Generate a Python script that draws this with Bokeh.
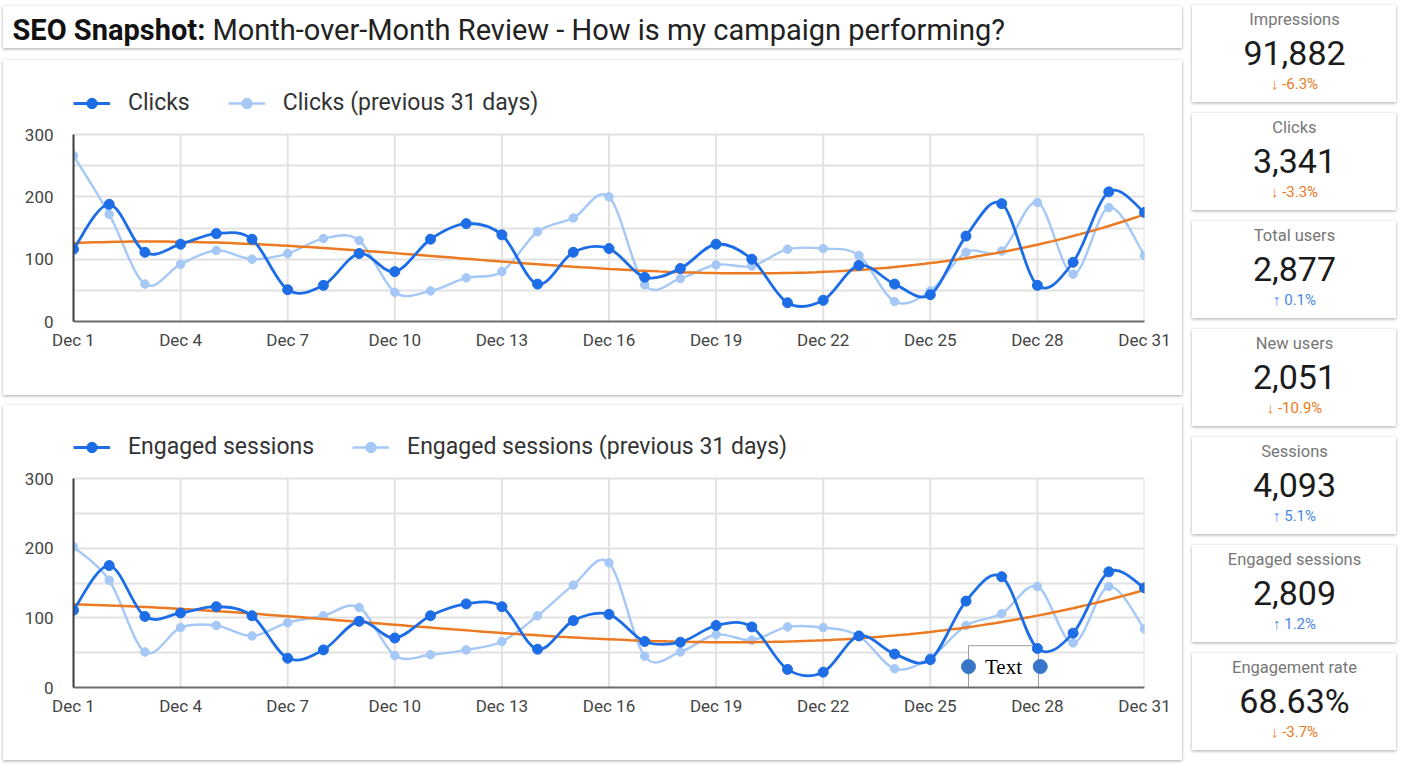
import numpy as np
from bokeh.plotting import figure
from bokeh.models import Range1d, FixedTicker, Legend, LegendItem, Spacer
from bokeh.layouts import column, row
from bokeh.embed import file_html
from bokeh.resources import INLINE
from bokeh.core.properties import value

# ---------------- data ----------------
days = list(range(1, 32))
clicks = [116, 188, 111, 124, 141, 132, 51, 58, 109, 80,
          132, 157, 139, 60, 111, 117, 71, 85, 124, 100,
          30, 34, 90, 60, 43, 137, 189, 58, 95, 208, 175]
clicks_prev = [266, 172, 60, 92, 114, 100, 109, 133, 130, 47,
               49, 70, 80, 144, 166, 200, 59, 69, 91, 89,
               116, 117, 106, 32, 49, 111, 113, 191, 76, 183, 106]
engaged = [111, 175, 102, 107, 116, 103, 42, 54, 95, 71,
           103, 120, 116, 55, 96, 105, 66, 65, 89, 87,
           26, 22, 74, 48, 40, 124, 159, 56, 78, 166, 143]
engaged_prev = [202, 154, 51, 86, 89, 74, 93, 103, 115, 46,
                47, 54, 66, 103, 147, 179, 45, 51, 76, 68,
                87, 86, 74, 27, 43, 89, 106, 145, 64, 145, 84]

x_tick_days = [1, 4, 7, 10, 13, 16, 19, 22, 25, 28, 31]
x_tick_labels = ["Dec 1", "Dec 4", "Dec 7", "Dec 10", "Dec 13", "Dec 16",
                 "Dec 19", "Dec 22", "Dec 25", "Dec 28", "Dec 31"]
y_ticks = [0, 100, 200, 300]
y_minor_ticks = [50, 150, 250]

kpi_names = ["Impressions", "Clicks", "Total users", "New users", "Sessions",
             "Engaged sessions", "Engagement rate"]
kpi_values = ["91,882", "3,341", "2,877", "2,051", "4,093", "2,809", "68.63%"]
kpi_deltas = [-6.3, -3.3, 0.1, -10.9, 5.1, 1.2, -3.7]

title_bold = "SEO Snapshot:"
title_rest = "Month-over-Month Review - How is my campaign performing?"

# annotation element ("Text" box) seen on the lower chart
annot_box = dict(left=26.07, right=28.03, bottom=0, top=60)
annot_dots_x = [26.07, 28.08]
annot_dots_y = [30, 30]
annot_label = "Text"

DARK = "#1c6de6"
LIGHT = "#a5c8f6"
ORANGE = "#ec7a22"
GRID = "#e2e2e2"
FONT = "Roboto"
SHADOW = {"box-shadow": "0px 1px 3px rgba(0,0,0,0.35)"}
Y_MAX = 300


def bezier_parts(xs, ys):
    xs = np.asarray(xs, float)
    ys = np.asarray(ys, float)
    xp = np.concatenate([[xs[0]], xs, [xs[-1]]])
    yp = np.concatenate([[ys[0]], ys, [ys[-1]]])
    x0, y0 = xs[:-1], ys[:-1]
    x1, y1 = xs[1:], ys[1:]
    cx0 = x0 + (xp[2:-1] - xp[:-3]) / 6.0
    cy0 = y0 + (yp[2:-1] - yp[:-3]) / 6.0
    cx1 = x1 - (xp[3:] - xp[1:-2]) / 6.0
    cy1 = y1 - (yp[3:] - yp[1:-2]) / 6.0
    return dict(x0=x0, y0=y0, x1=x1, y1=y1, cx0=cx0, cy0=cy0, cx1=cx1, cy1=cy1)


def make_chart(cur, prev, label, height, data_h, legend_gap, btop, bbottom, annotate=False):
    # frame is extended upward by `legend_gap` px so the legend sits inside it
    ytop = Y_MAX + legend_gap * Y_MAX / data_h
    p = figure(width=1179, height=height, output_backend="svg", toolbar_location=None,
               x_range=Range1d(1, 31), y_range=Range1d(0, ytop),
               min_border_left=70, min_border_right=38, min_border_top=btop,
               min_border_bottom=bbottom)
    p.outline_line_color = None
    p.background_fill_color = "white"
    p.border_fill_color = "white"
    p.styles = SHADOW

    p.xaxis.ticker = FixedTicker(ticks=x_tick_days)
    p.xaxis.major_label_overrides = {d: l for d, l in zip(x_tick_days, x_tick_labels)}
    p.yaxis.ticker = FixedTicker(ticks=y_ticks, minor_ticks=y_minor_ticks)
    p.yaxis.bounds = (0, Y_MAX)
    for ax in (p.xaxis, p.yaxis):
        ax.major_tick_line_color = None
        ax.minor_tick_line_color = None
        ax.major_label_text_font = FONT
        ax.major_label_text_font_size = "17px"
        ax.major_label_text_color = "#444444"
    p.xaxis.axis_line_color = "#6d6d6d"
    p.xaxis.axis_line_width = 2
    p.yaxis.axis_line_color = "#3c3c3c"
    p.yaxis.axis_line_width = 2
    p.xaxis.major_label_standoff = 2
    p.yaxis.major_label_standoff = 14
    p.xgrid.visible = False
    p.ygrid.grid_line_color = GRID
    p.ygrid.grid_line_width = 2
    p.ygrid.minor_grid_line_color = GRID
    p.ygrid.minor_grid_line_width = 2
    # vertical grid lines limited to the data area (0..300)
    p.segment(x0=x_tick_days, x1=x_tick_days, y0=[0] * len(x_tick_days),
              y1=[Y_MAX] * len(x_tick_days), line_color=GRID, line_width=2, level="underlay")

    if annotate:
        p.quad(fill_color="white", line_color="#9a9a9a", line_width=1, **annot_box)

    r_pl = p.bezier(line_color=LIGHT, line_width=2.4, **bezier_parts(days, prev))
    r_pd = p.scatter(days, prev, size=8.5, color=LIGHT)

    # trend (cubic polynomial fit of current series)
    coeffs = np.polyfit(days, cur, 3)
    tx = np.linspace(1, 31, 151)
    p.line(tx, np.polyval(coeffs, tx), line_color=ORANGE, line_width=2.5)

    r_cl = p.bezier(line_color=DARK, line_width=2.8, **bezier_parts(days, cur))
    r_cd = p.scatter(days, cur, size=10, color=DARK)

    if annotate:
        p.scatter(annot_dots_x, annot_dots_y, size=14, color="#3875c9")
        p.text(x=[(annot_box["left"] + annot_box["right"]) / 2], y=[annot_dots_y[0]],
               text=[annot_label], text_font=value("Liberation Serif"),
               text_font_size="21px", text_color="black",
               text_align="center", text_baseline="middle")

    leg_h = 26
    legend = Legend(items=[LegendItem(label=label, renderers=[r_cl, r_cd]),
                           LegendItem(label=label + " (previous 31 days)", renderers=[r_pl, r_pd])],
                    orientation="horizontal",
                    location=(0, data_h + 31 - leg_h // 2),
                    glyph_width=37, glyph_height=leg_h, label_height=leg_h,
                    label_standoff=18, spacing=38,
                    padding=0, margin=0, border_line_color=None,
                    background_fill_alpha=0, label_text_font=FONT,
                    label_text_font_size="23px", label_text_color="#333333",
                    inactive_fill_alpha=0)
    p.add_layout(legend, "center")
    return p


def blank_fig(w, h):
    f = figure(width=w, height=h, output_backend="svg", toolbar_location=None,
               x_range=Range1d(0, w), y_range=Range1d(h, 0),
               x_axis_location=None, y_axis_location=None,
               min_border=0, min_border_left=0, min_border_right=0,
               min_border_top=0, min_border_bottom=0)
    f.grid.visible = False
    f.outline_line_color = None
    f.background_fill_color = "white"
    f.border_fill_color = "white"
    f.styles = SHADOW
    return f


# ---------------- title ----------------
tp = blank_fig(1179, 42)
tp.text(x=[9], y=[23], text=[title_bold], text_font=value(FONT), text_font_style="bold",
        text_font_size="29px", text_color="#111111", text_baseline="middle")
tp.text(x=[209], y=[23], text=[title_rest], text_font=value(FONT),
        text_font_size="29px", text_color="#222222", text_baseline="middle")

# chart 1: card 60..395, data area 134..321 ; chart 2: card 405..760, data area 478..687
c1 = make_chart(clicks, clicks_prev, "Clicks", 335, 187, 50, 24, 74)
c2 = make_chart(engaged, engaged_prev, "Engaged sessions", 355, 209, 50, 23, 73, annotate=True)

# ---------------- KPI cards ----------------
cards = []
for name, val, delta in zip(kpi_names, kpi_values, kpi_deltas):
    k = blank_fig(204, 97)
    col = "#4a86e8" if delta >= 0 else "#ec7a22"
    arrow = "\u2191" if delta >= 0 else "\u2193"
    k.text(x=[102], y=[14], text=[name], text_font=value(FONT), text_font_size="16.5px",
           text_color="#777777", text_align="center", text_baseline="middle")
    k.text(x=[102], y=[47], text=[val], text_font=value(FONT), text_font_size="34px",
           text_color="#1b1b1b", text_align="center", text_baseline="middle")
    k.text(x=[102], y=[78], text=[f"{arrow} {delta:+.1f}%".replace("+", "")],
           text_font=value(FONT), text_font_size="15px",
           text_color=col, text_align="center", text_baseline="middle")
    cards.append(k)

title_block = column(Spacer(height=6), row(tp), spacing=0)
charts_block = column(c1, Spacer(height=10), c2, spacing=0)
left = column(title_block, Spacer(height=12), charts_block, spacing=0)
right_children = [Spacer(height=5)]
for i, k in enumerate(cards):
    if i:
        right_children.append(Spacer(height=11))
    right_children.append(k)
right = column(*right_children, spacing=0)
layout = row(Spacer(width=3), left, Spacer(width=10), right, spacing=0)

open("out.html", "w").write(file_html(layout, INLINE))
